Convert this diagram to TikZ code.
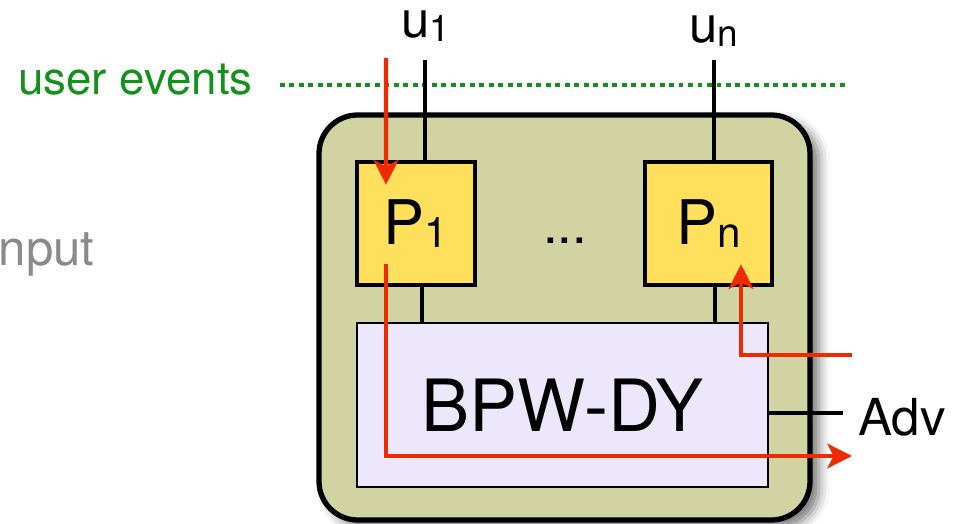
\documentclass[tikz,border=0pt]{standalone}
\usepackage{fontspec}
\setmainfont{TeX Gyre Heros}
\usepackage{xcolor}
\usetikzlibrary{arrows.meta,positioning,calc,shadows.blur}
\definecolor{sysfill}{HTML}{D1D3A3}
\definecolor{partyfill}{HTML}{FFE05C}
\definecolor{machfill}{HTML}{ECE7FA}
\definecolor{msgred}{HTML}{EE2A00}
\definecolor{evgreen}{HTML}{14901C}
\definecolor{inpgray}{HTML}{8A8A8A}
\newcommand{\idx}[2][24]{\raisebox{-.06em}{\fontsize{#1}{#1}\selectfont #2}}
\tikzset{
  sysbox/.style={rectangle,draw=black,line width=3pt,fill=sysfill,rounded corners=22pt,minimum width=9.82cm,minimum height=8.1cm,blur shadow={shadow xshift=5pt,shadow yshift=-4pt,shadow blur radius=6pt,shadow opacity=55}},
  party/.style={rectangle,draw=black,line width=2.6pt,fill=partyfill,minimum height=2.46cm,inner sep=0pt,font=\fontsize{35}{40}\selectfont},
  machine/.style={rectangle,draw=black,line width=1.4pt,fill=machfill,minimum width=8.22cm,minimum height=3.28cm,inner sep=0pt,font=\fontsize{41}{48}\selectfont},
  wire/.style={line width=2.1pt,black},
  msg/.style={line width=2.3pt,msgred,-{Stealth[length=14pt,width=14pt,inset=3.5pt]}},
  evline/.style={line width=2.4pt,evgreen,dash pattern=on 2.8pt off 2.6pt},
  ulab/.style={inner sep=0pt,font=\fontsize{29}{34}\selectfont},
  lab/.style={inner sep=0pt,font=\fontsize{26}{30}\selectfont},
}
\begin{document}
\begin{tikzpicture}
  \useasboundingbox (0,0) rectangle (19.16,-10.48);
  % the system: two parties on top of the machine
  \node[sysbox] (sys) at (11.29,-6.35) {};
  \node[party,minimum width=2.36cm] (P1) at (8.32,-4.47) {P\idx{1}};
  \node[party,minimum width=2.54cm] (Pn) at (14.17,-4.47) {P\idx{n}};
  \node[lab,font=\fontsize{30}{34}\selectfont,anchor=base] (dots) at (11.3,-4.86) {...};
  \node[machine] (bpw) at (11.25,-8.1) {BPW-DY};
  \draw[wire] ([xshift=.12cm]P1.south) -- ([xshift=.12cm]P1.south |- bpw.north);
  \draw[wire] ([xshift=.13cm]Pn.south) -- ([xshift=.13cm]Pn.south |- bpw.north);

  % user side
  \node[lab,evgreen,anchor=base east] (ev) at (5.06,-1.9) {user events};
  \node[lab,inpgray,font=\fontsize{28}{32}\selectfont,anchor=base east] (inp) at (1.9,-5.3) {input};
  \coordinate (evl) at (5.6,-1.7);
  \coordinate (evr) at (16.92,-1.7);
  \draw[evline] (evl) -- (evr);

  \node[ulab,anchor=base] (u1) at (8.52,-0.76) {u\idx[21]{1}};
  \node[ulab,anchor=base] (un) at (14.28,-0.86) {u\idx[21]{n}};
  \coordinate (t1) at (8.5,-1.2);
  \coordinate (tn) at (14.28,-1.2);
  \draw[wire] (t1) -- (t1 |- P1.north);
  \draw[wire] (tn) -- (tn |- Pn.north);

  % adversary
  \node[ulab,anchor=base west] (adv) at (17.16,-8.7) {Adv};
  \coordinate (advl) at (16.86,-8.26);
  \draw[wire] (advl -| bpw.east) -- (advl);

  % message flow
  \coordinate (m0) at (7.72,-1.16);
  \coordinate (m1) at (17.04,-9.12);
  \coordinate (m2) at (17.04,-7.1);
  \draw[msg] (m0) -- ([xshift=-6mm,yshift=-5mm]P1.north);
  \draw[msg] ([xshift=-6mm,yshift=.46cm]P1.south) |- (m1);
  \draw[msg] (m2) -| ([xshift=.65cm,yshift=.46cm]Pn.south);
\end{tikzpicture}
\end{document}
